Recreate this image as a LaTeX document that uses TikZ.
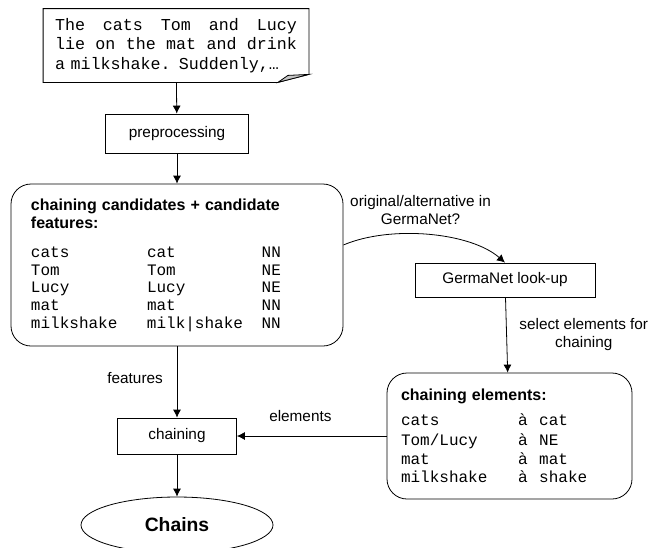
\documentclass[tikz,border=0pt]{standalone}
\usepackage{fontspec}
\setmainfont{Liberation Sans}
\setsansfont{Liberation Sans}
\setmonofont{Liberation Mono}
\usetikzlibrary{shapes.geometric, arrows.meta, positioning}

\newcommand{\candrow}[3]{\makebox[87pt][l]{#1}\makebox[86pt][l]{#2}#3}
\newcommand{\elemrow}[2]{\makebox[88pt][l]{#1}{\sffamily\fontsize{12}{14}\selectfont à}\hspace{9pt}#2}

\begin{document}
\begin{tikzpicture}[
      x=0.75pt,
      y=-0.75pt,
      line width=0.6pt,
      font=\fontsize{11.5}{13.5}\selectfont,
      note/.style={
          rectangle,
          align=left,
          text width=181.5pt,
          minimum width=198.75pt,
          minimum height=54.75pt,
          inner sep=0pt,
          font=\ttfamily\fontsize{12.5}{14.6}\selectfont
        },
      proc/.style={
          rectangle,
          draw,
          align=center,
          inner sep=0pt
        },
      list/.style={
          rectangle,
          draw,
          rounded corners=15pt,
          align=left,
          inner ysep=0pt
        },
      term/.style={
          ellipse,
          draw,
          minimum width=144pt,
          minimum height=42pt,
          font=\bfseries\fontsize{14.5}{17}\selectfont
        },
      arrow/.style={
          -{Latex[length=6pt,width=6pt]}
        }
    ]

    \useasboundingbox (0,0) rectangle (656,547);

    % Nodes
    \node[note] (text) at (176,45.5) {%
      \makebox[181.5pt][l]{The\hfill cats\hfill Tom\hfill and\hfill Lucy}\\
      \makebox[181.5pt][l]{lie\hfill on\hfill the\hfill mat\hfill and\hfill drink}\\
      a milkshake. Suddenly,…};
    \node[proc, minimum width=107.25pt, minimum height=29.25pt] (pre) at (177,133.5) {preprocessing};
    \node[list, text width=219pt, inner xsep=15pt, minimum height=121.5pt] (cand) at (177,265) {%
      {\bfseries\fontsize{12}{13.5}\selectfont chaining candidates + candidate\\features:}\\[9pt]
      \ttfamily\fontsize{12}{13.1}\selectfont
      \candrow{cats}{cat}{NN}\\
      \candrow{Tom}{Tom}{NE}\\
      \candrow{Lucy}{Lucy}{NE}\\
      \candrow{mat}{mat}{NN}\\
      \candrow{milkshake}{milk|shake}{NN}};
    \node[proc, minimum width=135pt, minimum height=25.5pt] (look) at (505,280) {GermaNet look-up};
    \node[list, text width=162.75pt, inner xsep=10.5pt, minimum height=94.5pt] (elem) at (509.5,436) {%
      {\bfseries\fontsize{12}{13.5}\selectfont chaining elements:}\\[4pt]
      \ttfamily\fontsize{12}{14.6}\selectfont
      \elemrow{cats}{cat}\\
      \elemrow{Tom/Lucy}{NE}\\
      \elemrow{mat}{mat}\\
      \elemrow{milkshake}{shake}};
    \node[proc, minimum width=89.25pt, minimum height=27pt] (chain) at (177,436) {chaining};
    \node[term] (chains) at (177,525) {Chains};

    % Note outline with folded corner
    \draw (text.north west) -- (text.north east) -- ([yshift=6pt]text.south east)
      -- ([xshift=-23.25pt]text.south east) -- (text.south west) -- cycle;
    \filldraw[fill=gray!45] ([xshift=-23.25pt]text.south east)
      -- ([xshift=-15.75pt,yshift=5.25pt]text.south east) -- ([yshift=6pt]text.south east) -- cycle;

    % Arrows
    \draw[arrow] (text) -- (pre);
    \draw[arrow] (pre) -- (cand);
    \draw[arrow] ([yshift=15pt]cand.east) .. controls (390,225) and (470,232) .. (look.north)
      node[pos=0.5, above=4pt, xshift=-6pt, align=center] {original/alternative in\\GermaNet?};
    \draw[arrow] (look) -- node[right=6pt, align=center] {select elements for\\chaining} (elem);
    \draw[arrow] (cand) -- node[pos=0.45, left=7pt] {features} (chain);
    \draw[arrow] (elem) -- node[pos=0.576, above=7pt] {elements} (chain);
    \draw[arrow] (chain) -- (chains);

  \end{tikzpicture}
\end{document}
